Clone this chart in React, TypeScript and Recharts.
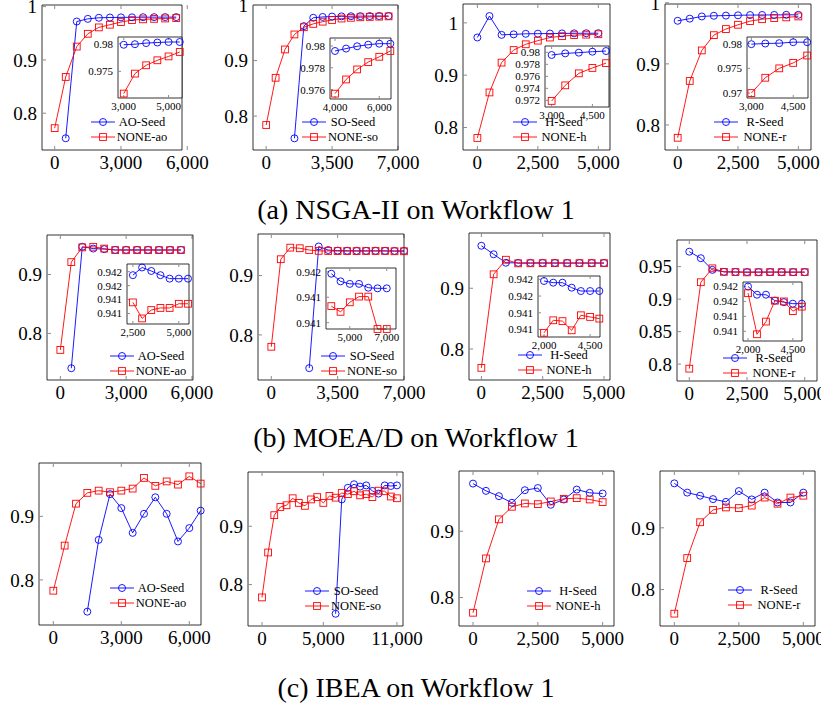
import React from 'react';
import { LineChart, Line, XAxis, YAxis } from 'recharts';

const FONT = '"Liberation Serif", "Times New Roman", serif';
const BLUE = '#0000ff';
const RED = '#ff0000';
const TICK_GREY = '#8c8c8c';

// evaluations on the x axis
const evals5000 = [0, 500, 1000, 1500, 2000, 2500, 3000, 3500, 4000, 4500, 5000];
const evals5500 = [0, 500, 1000, 1500, 2000, 2500, 3000, 3500, 4000, 4500, 5000, 5500];
const evals6500 = [0, 500, 1000, 1500, 2000, 2500, 3000, 3500, 4000, 4500, 5000, 5500, 6000, 6500];
const evals7000 = [0, 500, 1000, 1500, 2000, 2500, 3000, 3500, 4000, 4500, 5000, 5500, 6000, 6500, 7000];
const evals11000 = [
  0, 500, 1000, 1500, 2000, 2500, 3000, 3500, 4000, 4500, 5000, 5500,
  6000, 6500, 7000, 7500, 8000, 8500, 9000, 9500, 10000, 10500, 11000,
];

// (a) NSGA-II
const nsgaAoSeed = [null, 0.753, 0.972, 0.977, 0.979, 0.9795, 0.9798, 0.9799, 0.9801, 0.9802, 0.9803, 0.9803];
const nsgaAoNone = [0.772, 0.868, 0.925, 0.949, 0.961, 0.966, 0.971, 0.9746, 0.9761, 0.977, 0.9777, 0.9785];
const nsgaSoSeed = [null, null, null, 0.76, 0.962, 0.977, 0.9785, 0.9792, 0.97954, 0.97976, 0.97997, 0.98012, 0.98021, 0.98021];
const nsgaSoNone = [0.784, 0.869, 0.92, 0.947, 0.96, 0.966, 0.97, 0.973, 0.97563, 0.97693, 0.97785, 0.97852, 0.97901, 0.97954];
const nsgaHSeed = [0.972, 1.013, 0.977, 0.978, 0.979, 0.9793, 0.97956, 0.97983, 0.97995, 0.98011, 0.98022];
const nsgaHNone = [0.78, 0.867, 0.924, 0.948, 0.959, 0.966, 0.9719, 0.9745, 0.9765, 0.9774, 0.9782];
const nsgaRSeed = [0.9705, 0.974, 0.9776, 0.9787, 0.979, 0.9795, 0.9799, 0.98003, 0.9801, 0.9803, 0.9803];
const nsgaRNone = [0.779, 0.872, 0.922, 0.947, 0.957, 0.964, 0.97, 0.9731, 0.975, 0.9761, 0.9776];

// (b) MOEA/D
const moeadAoSeed = [null, 0.741, 0.947, 0.944, 0.943, 0.94175, 0.94186, 0.94181, 0.94175, 0.9417, 0.9417, 0.9417];
const moeadAoNone = [0.772, 0.921, 0.946, 0.947, 0.944, 0.94136, 0.94113, 0.94125, 0.94128, 0.94128, 0.94134, 0.94134];
const moeadSoSeed = [null, null, null, null, 0.744, 0.949, 0.943, 0.942, 0.94177, 0.94165, 0.94161, 0.94161, 0.94155, 0.94154, 0.94154];
const moeadSoNone = [0.78, 0.9275, 0.947, 0.946, 0.943, 0.9416, 0.9414, 0.9413, 0.94126, 0.94117, 0.94132, 0.94141, 0.94141, 0.9409, 0.9409];
const moeadHSeed = [0.97, 0.956, 0.942, 0.9418, 0.94178, 0.94176, 0.94176, 0.9417, 0.94166, 0.94166, 0.94166];
const moeadHNone = [0.769, 0.923, 0.947, 0.941, 0.94116, 0.94131, 0.9413, 0.94119, 0.94137, 0.94135, 0.94133];
const moeadRSeed = [0.973, 0.963, 0.945, 0.942, 0.9418, 0.94169, 0.94169, 0.94161, 0.94159, 0.94157, 0.94157];
const moeadRNone = [0.793, 0.926, 0.9474, 0.942, 0.94171, 0.94116, 0.94133, 0.94161, 0.9416, 0.94147, 0.94153];

// (c) IBEA
const ibeaAoSeed = [null, null, null, 0.75, 0.863, 0.935, 0.913, 0.874, 0.904, 0.93, 0.904, 0.8605, 0.8816, 0.909];
const ibeaAoNone = [0.783, 0.854, 0.92, 0.937, 0.9405, 0.938, 0.9405, 0.9437, 0.9605, 0.948, 0.955, 0.95, 0.963, 0.9516];
const ibeaSoSeed = [
  null, null, null, null, null, null, null, null, null, null, null, null,
  0.75, 0.946, 0.966, 0.972, 0.968, 0.97, 0.9606, 0.956, 0.97, 0.969, 0.97,
];
const ibeaSoNone = [
  0.778, 0.855, 0.919, 0.933, 0.936, 0.948, 0.94, 0.935, 0.946, 0.95, 0.94, 0.952,
  0.949, 0.957, 0.955, 0.96, 0.953, 0.955, 0.95, 0.961, 0.96, 0.951, 0.948,
];
const ibeaHSeed = [0.972, 0.961, 0.953, 0.943, 0.962, 0.9653, 0.94, 0.948, 0.963, 0.958, 0.957];
const ibeaHNone = [0.777, 0.859, 0.918, 0.937, 0.942, 0.941, 0.945, 0.949, 0.95, 0.948, 0.944];
const ibeaRSeed = [0.972, 0.957, 0.952, 0.9465, 0.942, 0.9595, 0.946, 0.957, 0.941, 0.941, 0.957];
const ibeaRNone = [0.761, 0.851, 0.909, 0.929, 0.933, 0.932, 0.936, 0.949, 0.939, 0.949, 0.952];

const fmtX = (v: number) => v.toLocaleString('en-US');
const fmtY = (v: number) => String(Number(v.toFixed(3)));
const blank = () => '';

const Square = (props: any) => {
  const { cx, cy, key } = props;
  if (cx == null || cy == null || props.value == null) return <g key={key} />;
  return <rect key={key} x={cx - 3.4} y={cy - 3.4} width={6.8} height={6.8} fill="none" stroke={RED} strokeWidth={0.9} />;
};
const Ring = (props: any) => {
  const { cx, cy, key } = props;
  if (cx == null || cy == null || props.value == null) return <g key={key} />;
  return <circle key={key} cx={cx} cy={cy} r={3.5} fill="none" stroke={BLUE} strokeWidth={0.9} />;
};

type InsetSpec = {
  box: number[];
  from: number;
  xDomain: number[];
  yDomain: number[];
  xTicks: number[];
  yTicks: number[];
};

type PanelSpec = {
  box: number[];
  x: number[];
  seed: (number | null)[];
  none: (number | null)[];
  names: string[];
  xDomain: number[];
  yDomain: number[];
  xTicks: number[];
  yTicks: number[];
  key: number[];
  inset?: InsetSpec;
};

const INSET_Y4 = [0.9412, 0.9414, 0.9416, 0.9418];

const panels: PanelSpec[] = [
  {
    box: [42, 5, 182, 150], x: evals5500, seed: nsgaAoSeed, none: nsgaAoNone, names: ['AO-Seed', 'NONE-ao'],
    xDomain: [-573, 5762], yDomain: [0.731, 1.003], xTicks: [0, 3000, 6000], yTicks: [0.8, 0.9, 1], key: [91, 122],
    inset: { box: [118, 37, 182, 98], from: 3000, xDomain: [2744, 5600], yDomain: [0.9702, 0.9812], xTicks: [3000, 5000], yTicks: [0.975, 0.98] },
  },
  {
    box: [253, 5, 398, 150], x: evals6500, seed: nsgaSoSeed, none: nsgaSoNone, names: ['SO-Seed', 'NONE-so'],
    xDomain: [-700, 7000], yDomain: [0.739, 1.0], xTicks: [0, 3500, 7000], yTicks: [0.8, 0.9, 1], key: [302, 122],
    inset: { box: [330, 38, 391, 99], from: 4000, xDomain: [3773, 6530], yDomain: [0.97514, 0.98073], xTicks: [4000, 6000], yTicks: [0.976, 0.978, 0.98] },
  },
  {
    box: [463, 4, 610, 150], x: evals5000, seed: nsgaHSeed, none: nsgaHNone, names: ['H-Seed', 'NONE-h'],
    xDomain: [-594, 5483], yDomain: [0.757, 1.036], xTicks: [0, 2500, 5000], yTicks: [0.8, 0.9, 1], key: [513, 122],
    inset: { box: [545, 46, 609, 107], from: 3000, xDomain: [2756, 5110], yDomain: [0.97089, 0.98106], xTicks: [3000, 4500], yTicks: [0.972, 0.974, 0.976, 0.978, 0.98] },
  },
  {
    box: [665, 4, 811, 150], x: evals5000, seed: nsgaRSeed, none: nsgaRNone, names: ['R-Seed', 'NONE-r'],
    xDomain: [-525, 5525], yDomain: [0.759, 0.998], xTicks: [0, 2500, 5000], yTicks: [0.8, 0.9, 1], key: [714, 122],
    inset: { box: [747, 37, 808, 98], from: 3000, xDomain: [2845, 5030], yDomain: [0.969, 0.98135], xTicks: [3000, 4500], yTicks: [0.97, 0.975, 0.98] },
  },
  {
    box: [47, 235, 193, 380], x: evals5500, seed: moeadAoSeed, none: moeadAoNone, names: ['AO-Seed', 'NONE-ao'],
    xDomain: [-608, 6049], yDomain: [0.721, 0.967], xTicks: [0, 3000, 6000], yTicks: [0.8, 0.9], key: [110, 356],
    inset: { box: [127, 264, 189, 324], from: 2500, xDomain: [2179, 5554], yDomain: [0.94105, 0.94191], xTicks: [2500, 5000], yTicks: INSET_Y4 },
  },
  {
    box: [258, 234, 404, 380], x: evals7000, seed: moeadSoSeed, none: moeadSoNone, names: ['SO-Seed', 'NONE-so'],
    xDomain: [-702, 7000], yDomain: [0.724, 0.97], xTicks: [0, 3500, 7000], yTicks: [0.8, 0.9], key: [321, 356],
    inset: { box: [326, 268, 396, 329], from: 4000, xDomain: [3713, 7500], yDomain: [0.94093, 0.94186], xTicks: [5000, 7000], yTicks: [0.941, 0.9414, 0.9418] },
  },
  {
    box: [469, 233, 610, 380], x: evals5000, seed: moeadHSeed, none: moeadHNone, names: ['H-Seed', 'NONE-h'],
    xDomain: [-504, 5245], yDomain: [0.749, 0.991], xTicks: [0, 2500, 5000], yTicks: [0.8, 0.9], key: [518, 355],
    inset: { box: [538, 276, 600, 337], from: 2000, xDomain: [1673, 5036], yDomain: [0.94111, 0.94184], xTicks: [2000, 4500], yTicks: INSET_Y4 },
  },
  {
    box: [677, 240, 817, 381], x: evals5000, seed: moeadRSeed, none: moeadRNone, names: ['R-Seed', 'NONE-r'],
    xDomain: [-532, 5532], yDomain: [0.774, 0.991], xTicks: [0, 2500, 5000], yTicks: [0.8, 0.85, 0.9, 0.95], key: [723, 358],
    inset: { box: [743, 282, 802, 341], from: 2000, xDomain: [1720, 5010], yDomain: [0.94107, 0.94186], xTicks: [2000, 4500], yTicks: INSET_Y4 },
  },
  {
    box: [39, 463, 201, 625], x: evals6500, seed: ibeaAoSeed, none: ibeaAoNone, names: ['AO-Seed', 'NONE-ao'],
    xDomain: [-632, 6515], yDomain: [0.729, 0.984], xTicks: [0, 3000, 6000], yTicks: [0.8, 0.9], key: [110, 588],
  },
  {
    box: [248, 472, 403, 626], x: evals11000, seed: ibeaSoSeed, none: ibeaSoNone, names: ['SO-Seed', 'NONE-so'],
    xDomain: [-1141, 11495], yDomain: [0.729, 0.993], xTicks: [0, 5000, 11000], yTicks: [0.8, 0.9], key: [305, 591],
  },
  {
    box: [459, 471, 614, 626], x: evals5000, seed: ibeaHSeed, none: ibeaHNone, names: ['H-Seed', 'NONE-h'],
    xDomain: [-541, 5438], yDomain: [0.757, 0.991], xTicks: [0, 2500, 5000], yTicks: [0.8, 0.9], key: [527, 591],
  },
  {
    box: [660, 471, 815, 626], x: evals5000, seed: ibeaRSeed, none: ibeaRNone, names: ['R-Seed', 'NONE-r'],
    xDomain: [-555, 5452], yDomain: [0.741, 0.992], xTicks: [0, 2500, 5000], yTicks: [0.8, 0.9], key: [728, 590],
  },
];

const captions = [
  { text: '(a) NSGA-II on Workflow 1', y: 210 },
  { text: '(b) MOEA/D on Workflow 1', y: 438 },
  { text: '(c) IBEA on Workflow 1', y: 688 },
];

type FrameProps = {
  rows: any[];
  box: number[];
  xDomain: number[];
  yDomain: number[];
  xTicks: number[];
  yTicks: number[];
  small?: boolean;
};

// one framed plot: ticks pointing inward on all four sides, labels bottom and left
const Frame = ({ rows, box, xDomain, yDomain, xTicks, yTicks, small }: FrameProps) => {
  const [l, t, r, b] = box;
  const ml = small ? 40 : 50;
  const mr = small ? 20 : 30;
  const mt = 10;
  const mb = small ? 20 : 34;
  const ts = small ? -3 : -4;
  const fs = small ? 11 : 19;
  const tickText = { fill: '#000', fontSize: fs, fontFamily: FONT };
  const common = { tickSize: ts, tickLine: { stroke: TICK_GREY }, axisLine: { stroke: '#000', strokeWidth: 0.8 }, interval: 0 as const };
  return (
    <div style={{ position: 'absolute', left: l - ml, top: t - mt }}>
      {small && <div style={{ position: 'absolute', left: ml, top: mt, width: r - l, height: b - t, background: '#fff' }} />}
      <div style={{ position: 'relative' }}>
        <LineChart width={r - l + ml + mr} height={b - t + mt + mb} data={rows} margin={{ left: ml - 1, right: mr - 1, top: mt - 1, bottom: mb - 1 }}>
          <XAxis xAxisId="b" dataKey="x" type="number" domain={xDomain} ticks={xTicks} height={1} tickMargin={small ? 7 : 10} tick={tickText} tickFormatter={fmtX} {...common} />
          <XAxis xAxisId="t" orientation="top" dataKey="x" type="number" domain={xDomain} ticks={xTicks} height={1} tick={tickText} tickFormatter={blank} {...common} />
          <YAxis yAxisId="l" type="number" domain={yDomain} ticks={yTicks} width={1} tickMargin={small ? 8 : 9} tick={tickText} tickFormatter={fmtY} {...common} />
          <YAxis yAxisId="r" orientation="right" type="number" domain={yDomain} ticks={yTicks} width={1} tick={tickText} tickFormatter={blank} {...common} />
          <Line xAxisId="b" yAxisId="l" dataKey="seed" stroke={BLUE} strokeWidth={0.9} dot={Ring} activeDot={false} isAnimationActive={false} />
          <Line xAxisId="b" yAxisId="l" dataKey="none" stroke={RED} strokeWidth={0.9} dot={Square} activeDot={false} isAnimationActive={false} />
        </LineChart>
      </div>
    </div>
  );
};

const Key = ({ at, names }: { at: number[]; names: string[] }) => (
  <svg style={{ position: 'absolute', left: at[0], top: at[1] - 8, overflow: 'visible' }} width={90} height={32}>
    {names.map((n, i) => {
      const y = 8 + i * 15;
      const c = i === 0 ? BLUE : RED;
      return (
        <g key={n}>
          <line x1={0} x2={24} y1={y} y2={y} stroke={c} strokeWidth={0.9} />
          {i === 0 ? (
            <circle cx={12} cy={y} r={3.5} fill="none" stroke={c} strokeWidth={0.9} />
          ) : (
            <rect x={8.6} y={y - 3.4} width={6.8} height={6.8} fill="none" stroke={c} strokeWidth={0.9} />
          )}
          <text x={51} y={y} textAnchor="middle" dominantBaseline="central" fontFamily={FONT} fontSize={12.5}>
            {n}
          </text>
        </g>
      );
    })}
  </svg>
);

const Panel = ({ p }: { p: PanelSpec }) => {
  const rows = p.x.map((x, i) => ({ x, seed: p.seed[i], none: p.none[i] }));
  return (
    <>
      <Frame rows={rows} box={p.box} xDomain={p.xDomain} yDomain={p.yDomain} xTicks={p.xTicks} yTicks={p.yTicks} />
      <Key at={p.key} names={p.names} />
      {p.inset && (
        <Frame
          small
          rows={rows.filter((d) => d.x >= p.inset!.from)}
          box={p.inset.box}
          xDomain={p.inset.xDomain}
          yDomain={p.inset.yDomain}
          xTicks={p.inset.xTicks}
          yTicks={p.inset.yTicks}
        />
      )}
    </>
  );
};

export default function App() {
  return (
    <div style={{ position: 'absolute', left: 0, top: 0, width: 821, height: 706, background: '#fff', overflow: 'hidden' }}>
      {panels.map((p, i) => (
        <Panel key={i} p={p} />
      ))}
      {captions.map((c) => (
        <div
          key={c.text}
          style={{ position: 'absolute', left: 0, width: 832, top: c.y - 16, textAlign: 'center', fontFamily: FONT, fontSize: 28, lineHeight: '32px' }}
        >
          {c.text}
        </div>
      ))}
    </div>
  );
}
